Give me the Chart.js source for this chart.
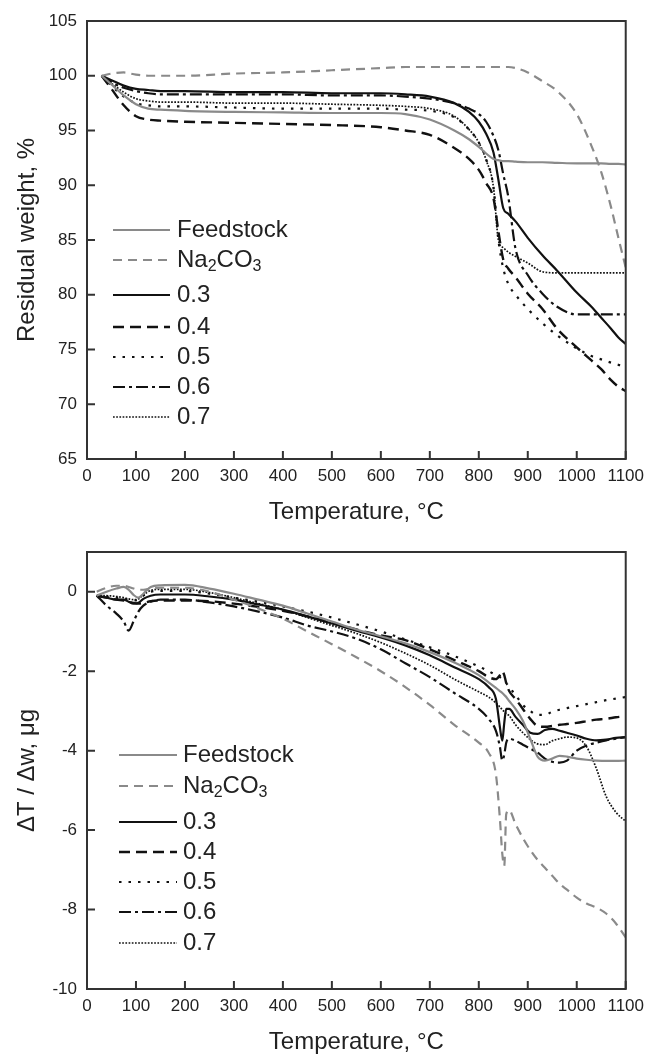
<!DOCTYPE html>
<html>
<head>
<meta charset="utf-8">
<title>TG / DTA</title>
<script src="https://cdn.jsdelivr.net/npm/chart.js@4.4.1/dist/chart.umd.min.js"></script>
<style>
    html, body { margin: 0; padding: 0; background: #fff; }
    #wrap { position: relative; width: 651px; height: 1057px; overflow: hidden; }
    .panel { position: absolute; left: 0; width: 651px; }
    #tg { top: 0; height: 531px; }
    #dta { top: 531px; height: 526px; }
</style>
</head>
<body>
<div id="wrap">
    <div class="panel" id="tg"><canvas id="tgChart"></canvas></div>
    <div class="panel" id="dta"><canvas id="dtaChart"></canvas></div>
</div>
<script>
// ---- data ----
const seriesLabels = ['Feedstock', 'Na2CO3', '0.3', '0.4', '0.5', '0.6', '0.7'];

const tempTicks = [0, 100, 200, 300, 400, 500, 600, 700, 800, 900, 1000, 1100];
const tgTicks = [65, 70, 75, 80, 85, 90, 95, 100, 105];
const dtaTicks = [-10, -8, -6, -4, -2, 0];

// residual weight, %
const tgTemps = [30, 50, 75, 100, 125, 150, 200, 300, 400, 500, 600, 650, 700, 750, 780, 800, 815, 830, 840, 850, 860, 875, 900, 930, 960, 1000, 1030, 1050, 1070, 1085, 1100];
const tgFeedstock = [100, 99.2, 98.2, 97.4, 97.0, 96.9, 96.8, 96.7, 96.65, 96.6, 96.6, 96.5, 96.0, 95.0, 94.2, 93.5, 92.9, 92.4, 92.3, 92.2, 92.2, 92.15, 92.1, 92.1, 92.05, 92.0, 92.0, 92.0, 91.95, 91.95, 91.9];
const tgNa2CO3 = [100, 100.2, 100.3, 100.1, 100.0, 100.0, 100.0, 100.2, 100.3, 100.5, 100.7, 100.8, 100.8, 100.8, 100.8, 100.8, 100.8, 100.8, 100.8, 100.8, 100.8, 100.7, 100.3, 99.5, 98.6, 96.5, 93.6, 91.2, 88.0, 85.2, 82.5];
const tg03 = [100, 99.6, 99.1, 98.8, 98.7, 98.6, 98.6, 98.5, 98.5, 98.4, 98.4, 98.3, 98.1, 97.5, 96.7, 95.8, 94.7, 93.0, 90.5, 87.9, 87.4, 86.7, 85.2, 83.6, 82.2, 80.2, 78.9, 77.9, 76.9, 76.1, 75.5];
const tg04 = [100, 98.8, 97.3, 96.3, 96.0, 95.9, 95.8, 95.7, 95.6, 95.5, 95.3, 95.0, 94.6, 93.4, 92.4, 91.4, 90.2, 88.8, 85.8, 83.2, 82.4, 81.6, 80.1, 78.7, 76.9, 75.2, 74.0, 73.2, 72.2, 71.6, 71.2];
const tg05 = [100, 99.1, 98.1, 97.5, 97.3, 97.2, 97.2, 97.1, 97.0, 97.0, 97.0, 96.9, 96.8, 96.2, 95.1, 93.9, 92.4, 89.8, 85.0, 82.4, 81.0, 80.0, 78.7, 77.4, 76.3, 75.1, 74.4, 74.1, 73.8, 73.6, 73.5];
const tg06 = [100, 99.4, 98.9, 98.6, 98.4, 98.3, 98.3, 98.3, 98.3, 98.2, 98.2, 98.1, 97.9, 97.5, 97.0, 96.5, 95.8, 94.5, 93.2, 91.0, 89.0, 84.2, 81.8, 80.1, 78.9, 78.2, 78.2, 78.2, 78.2, 78.2, 78.2];
const tg07 = [100, 99.3, 98.5, 97.9, 97.7, 97.6, 97.6, 97.5, 97.5, 97.4, 97.3, 97.2, 97.0, 96.3, 95.1, 93.9, 92.3, 89.8, 85.0, 84.3, 83.9, 83.5, 82.9, 82.1, 82.0, 82.0, 82.0, 82.0, 82.0, 82.0, 82.0];

// dT / dw, ug
const dtaTemps = [20, 40, 60, 75, 85, 95, 105, 115, 130, 150, 200, 250, 300, 350, 400, 450, 500, 550, 600, 650, 700, 750, 800, 820, 835, 843, 848, 852, 856, 862, 875, 890, 905, 920, 935, 950, 965, 980, 1000, 1020, 1040, 1060, 1080, 1100];
const dtaFeedstock = [-0.1, 0.0, 0.08, 0.12, 0.05, -0.08, -0.15, -0.05, 0.12, 0.16,
    0.17, 0.08, -0.05, -0.2, -0.35, -0.55, -0.75, -0.95, -1.12, -1.3,
    -1.52, -1.78, -2.1, -2.28, -2.42, -2.5, -2.55, -2.6, -2.65, -2.75,
    -2.95, -3.25, -3.7, -4.15, -4.25, -4.2, -4.13, -4.15, -4.2, -4.23,
    -4.25, -4.26, -4.26, -4.25];
const dtaNa2CO3 = [0.0, 0.1, 0.15, 0.15, 0.12, 0.08, 0.05, 0.05, 0.08, 0.1,
    0.1, 0.0, -0.2, -0.42, -0.68, -1.0, -1.32, -1.65, -2.0, -2.4,
    -2.85, -3.35, -3.8, -4.05, -4.6, -5.7, -6.6, -6.9, -5.6, -5.5,
    -5.85, -6.2, -6.5, -6.75, -6.95, -7.15, -7.35, -7.5, -7.7, -7.85,
    -7.95, -8.1, -8.35, -8.7];
const dta03 = [-0.1, -0.15, -0.2, -0.2, -0.25, -0.3, -0.28, -0.18, -0.1, -0.07,
    -0.07, -0.12, -0.2, -0.32, -0.45, -0.62, -0.8, -0.98, -1.15, -1.35,
    -1.6, -1.9, -2.2, -2.4, -2.7, -3.4, -3.75, -3.3, -2.95, -2.95,
    -3.15, -3.35, -3.55, -3.58, -3.48, -3.45, -3.5, -3.55, -3.62, -3.7,
    -3.74, -3.72, -3.68, -3.66];
const dta04 = [-0.1, -0.15, -0.2, -0.22, -0.25, -0.28, -0.3, -0.28, -0.24, -0.22,
    -0.22, -0.24, -0.3, -0.38, -0.48, -0.62, -0.78, -0.95, -1.1, -1.22,
    -1.45, -1.72, -2.0, -2.15, -2.2, -2.1, -2.0, -2.1, -2.3, -2.5,
    -2.7, -2.95, -3.2, -3.38, -3.4, -3.38, -3.35, -3.33, -3.3, -3.26,
    -3.22, -3.2, -3.16, -3.13];
const dta05 = [-0.1, -0.12, -0.15, -0.18, -0.2, -0.22, -0.2, -0.1, 0.0, 0.02,
    0.02, -0.05, -0.15, -0.25, -0.37, -0.5, -0.65, -0.82, -1.0, -1.2,
    -1.4, -1.62, -1.88, -2.0, -2.1, -2.15, -2.2, -2.25, -2.3, -2.4,
    -2.6, -2.85, -3.0, -3.1, -3.1, -3.02, -2.97, -2.93, -2.88, -2.83,
    -2.78, -2.73, -2.69, -2.65];
const dta06 = [-0.1, -0.35, -0.55, -0.75, -0.98, -0.75, -0.5, -0.35, -0.25, -0.2,
    -0.2, -0.27, -0.37, -0.5, -0.65, -0.85, -1.0, -1.18, -1.45, -1.8,
    -2.15, -2.55, -2.95, -3.2, -3.5, -3.9, -4.25, -4.1, -3.8, -3.7,
    -3.75, -3.85, -3.95, -4.05, -4.2, -4.28, -4.3, -4.25, -4.0, -3.87,
    -3.8, -3.74, -3.7, -3.66];
const dta07 = [-0.1, -0.1, -0.12, -0.15, -0.18, -0.2, -0.18, -0.08, 0.03, 0.06,
    0.06, -0.02, -0.15, -0.3, -0.45, -0.65, -0.85, -1.05, -1.28, -1.55,
    -1.85, -2.2, -2.52, -2.65, -2.8, -2.9, -2.97, -3.02, -3.07, -3.12,
    -3.35, -3.55, -3.72, -3.83, -3.85, -3.75, -3.7, -3.66, -3.68, -3.9,
    -4.45, -5.15, -5.55, -5.78];

// ---- styles ----
const FONT = "'Liberation Sans', Arial, sans-serif";
const INK = '#222';
const GRAY = '#8a8a8a';
const BLACK = '#111';

const seriesStyles = [
    { color: GRAY, width: 2.2, dash: [] },
    { color: GRAY, width: 2.2, dash: [9, 6] },
    { color: BLACK, width: 2.2, dash: [] },
    { color: BLACK, width: 2.4, dash: [11, 6] },
    { color: BLACK, width: 2.2, dash: [2.5, 7] },
    { color: BLACK, width: 2.2, dash: [12, 4, 3, 4] },
    { color: BLACK, width: 1.7, dash: [1.7, 1.5] }
];

function buildDatasets(temps, seriesList) {
    return seriesList.map((values, i) => ({
        label: seriesLabels[i],
        data: temps.map((t, k) => ({ x: t, y: values[k] })),
        borderColor: seriesStyles[i].color,
        borderWidth: seriesStyles[i].width,
        borderDash: seriesStyles[i].dash,
        pointRadius: 0,
        fill: false,
        cubicInterpolationMode: 'monotone'
    }));
}

// draws a label, digits right after a letter become subscripts (Na2CO3)
function drawLabel(ctx, text, x, y) {
    let cx = x;
    let prevLetter = false;
    for (const ch of text) {
        const sub = /\d/.test(ch) && prevLetter;
        ctx.font = (sub ? '16px ' : '24px ') + FONT;
        ctx.fillText(ch, cx, sub ? y + 7 : y);
        cx += ctx.measureText(ch).width;
        prevLetter = /[A-Za-z]/.test(ch) || sub;
    }
}

// legend inside the plot area
const inlineLegend = {
    id: 'inlineLegend',
    afterDatasetsDraw(chart, args, opts) {
        const { ctx, chartArea } = chart;
        ctx.save();
        ctx.fillStyle = INK;
        ctx.textBaseline = 'middle';
        ctx.textAlign = 'left';
        chart.data.datasets.forEach((ds, i) => {
            const y = chartArea.top + opts.rows[i];
            ctx.strokeStyle = ds.borderColor;
            ctx.lineWidth = ds.borderWidth;
            ctx.setLineDash(ds.borderDash);
            ctx.beginPath();
            ctx.moveTo(opts.x1, y);
            ctx.lineTo(opts.x2, y);
            ctx.stroke();
            drawLabel(ctx, ds.label, opts.textX, y);
        });
        ctx.restore();
    }
};

// box around plot + inward tick marks
const frame = {
    id: 'frame',
    afterDatasetsDraw(chart) {
        const { ctx, chartArea: a, scales } = chart;
        ctx.save();
        ctx.strokeStyle = '#333';
        ctx.lineWidth = 2;
        ctx.setLineDash([]);
        ctx.strokeRect(a.left, a.top, a.right - a.left, a.bottom - a.top);
        ctx.beginPath();
        scales.x.ticks.forEach(t => {
            const px = scales.x.getPixelForValue(t.value);
            ctx.moveTo(px, a.bottom);
            ctx.lineTo(px, a.bottom - 8);
        });
        scales.y.ticks.forEach(t => {
            const py = scales.y.getPixelForValue(t.value);
            ctx.moveTo(a.left, py);
            ctx.lineTo(a.left + 8, py);
        });
        ctx.stroke();
        ctx.restore();
    }
};

function makeChart(id, cfg) {
    return new Chart(document.getElementById(id), {
        type: 'line',
        data: { datasets: cfg.datasets },
        plugins: [frame, inlineLegend],
        options: {
            responsive: true,
            maintainAspectRatio: false,
            animation: false,
            layout: { padding: { left: 10, right: 20, top: 21, bottom: 0 } },
            plugins: {
                legend: { display: false },
                tooltip: { enabled: false },
                inlineLegend: cfg.legend
            },
            scales: {
                x: {
                    type: 'linear',
                    min: 0,
                    max: 1100,
                    afterBuildTicks: s => { s.ticks = tempTicks.map(v => ({ value: v })); },
                    afterFit: s => { s.height = cfg.xHeight; },
                    grid: { display: false, drawTicks: false },
                    border: { display: false },
                    ticks: {
                        padding: 7,
                        autoSkip: false,
                        maxRotation: 0,
                        color: INK,
                        font: { family: FONT, size: 17 },
                        callback: v => String(v)
                    },
                    title: {
                        display: true,
                        text: 'Temperature, °C',
                        color: INK,
                        font: { family: FONT, size: 24 },
                        padding: { top: 0, bottom: cfg.xTitlePad }
                    }
                },
                y: {
                    type: 'linear',
                    min: cfg.yMin,
                    max: cfg.yMax,
                    afterBuildTicks: s => { s.ticks = cfg.yTicks.map(v => ({ value: v })); },
                    afterFit: s => { s.width = 77; },
                    grid: { display: false, drawTicks: false },
                    border: { display: false },
                    ticks: {
                        padding: 10,
                        color: INK,
                        font: { family: FONT, size: 17 },
                        callback: v => String(v)
                    },
                    title: {
                        display: true,
                        text: cfg.yTitle,
                        color: INK,
                        font: { family: FONT, size: 24 },
                        padding: { top: 3, bottom: 0 }
                    }
                }
            }
        }
    });
}

makeChart('tgChart', {
    datasets: buildDatasets(tgTemps, [tgFeedstock, tgNa2CO3, tg03, tg04, tg05, tg06, tg07]),
    yMin: 65, yMax: 105, yTicks: tgTicks,
    yTitle: 'Residual weight, %',
    xHeight: 72, xTitlePad: 4,
    legend: { x1: 113, x2: 170, textX: 177, rows: [209, 239, 274, 306, 336, 366, 396] }
});

makeChart('dtaChart', {
    datasets: buildDatasets(dtaTemps, [dtaFeedstock, dtaNa2CO3, dta03, dta04, dta05, dta06, dta07]),
    yMin: -10, yMax: 1, yTicks: dtaTicks,
    yTitle: 'ΔT / Δw, μg',
    xHeight: 68, xTitlePad: 0,
    legend: { x1: 119, x2: 177, textX: 183, rows: [203, 234, 270, 300, 330, 360, 391] }
});
</script>
</body>
</html>
